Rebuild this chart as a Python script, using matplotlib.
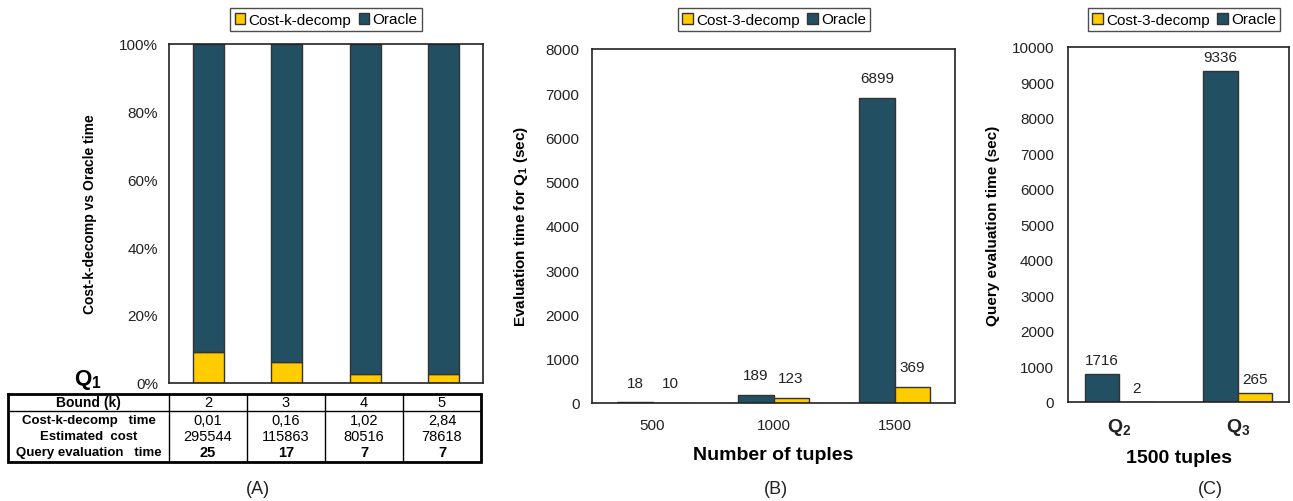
import numpy as np
import matplotlib
matplotlib.use("Agg")
import matplotlib.pyplot as plt
from matplotlib.patches import Patch

plt.rcParams['font.family'] = ['Liberation Sans', 'DejaVu Sans']
plt.rcParams['mathtext.fontset'] = 'custom'
plt.rcParams['mathtext.rm'] = 'Liberation Sans'
plt.rcParams['mathtext.bf'] = 'Liberation Sans:bold'

# ---- data ----
# (A) share of time, per bound k
bounds = ['2', '3', '4', '5']
costk_pct = [9.0, 6.1, 2.4, 2.4]
oracle_pct = [91.0, 93.9, 97.6, 97.6]
costk_time = ['0,01', '0,16', '1,02', '2,84']
est_cost = ['295544', '115863', '80516', '78618']
query_time = ['25', '17', '7', '7']

# (B) evaluation time for Q1 vs number of tuples
tuples = ['500', '1000', '1500']
oracle_b = [18, 189, 6899]
cost3_b = [10, 123, 369]

# (C) 1500 tuples, Q2 and Q3
queries = [r'$\mathbf{Q_2}$', r'$\mathbf{Q_3}$']
oracle_c = [800, 9336]
oracle_c_lbl = ['1716', '9336']
cost3_c = [2, 265]
cost3_c_lbl = ['2', '265']

YEL = '#FFCC00'
DARK = '#234F63'
EDGE = '#333333'

W, H = 1293, 502
fig = plt.figure(figsize=(W / 100, H / 100), dpi=100)


def box(l, t, r, b):
    return [l / W, 1 - b / H, (r - l) / W, (b - t) / H]


def style(ax):
    for s in ax.spines.values():
        s.set_linewidth(1.2)
        s.set_color('#222222')
    ax.tick_params(length=0, labelsize=11, colors='#222222')


def legend(ax, label, xc):
    h = [Patch(facecolor=YEL, edgecolor=EDGE, label=label),
         Patch(facecolor=DARK, edgecolor=EDGE, label='Oracle')]
    fig.legend(handles=h, loc='center', bbox_to_anchor=(xc / W, 1 - 20.5 / H),
               ncol=2, fontsize=11, frameon=True, fancybox=False,
               edgecolor='#222222', handlelength=0.7, handleheight=0.7,
               handletextpad=0.2, columnspacing=0.5, borderpad=0.3,
               borderaxespad=0)


# ---- (A) ----
axA = fig.add_axes(box(169, 45, 483, 383.5))
xa = np.arange(len(bounds))
axA.bar(xa, costk_pct, width=0.39, color=YEL, edgecolor=EDGE, linewidth=1)
axA.bar(xa, oracle_pct, bottom=costk_pct, width=0.39, color=DARK,
        edgecolor=EDGE, linewidth=1)
axA.set_xlim(-0.5, 3.5)
axA.set_ylim(0, 100)
axA.set_yticks(range(0, 101, 20))
axA.set_yticklabels([f'{v}%' for v in range(0, 101, 20)])
axA.set_xticks([])
style(axA)
axA.tick_params(axis='y', pad=8)
axA.set_ylabel('Cost-k-decomp vs Oracle time', fontsize=10, fontweight='bold',
               labelpad=16)
legend(axA, 'Cost-k-decomp', 326)
fig.text(88 / W, 1 - 380 / H, r'$\mathbf{Q_1}$', fontsize=16, ha='center',
         va='center')

# table under (A)
axT = fig.add_axes(box(8, 395, 481, 463))
unit = (483 - 169) / 4.0
x0 = -0.5 - (170 - 8) / unit
axT.set_xlim(x0, 3.5)
axT.set_ylim(463, 395)
axT.axis('off')
axT.plot([x0, 3.5, 3.5, x0, x0], [395, 395, 463, 463, 395], color='black',
         lw=2, clip_on=False, solid_joinstyle='miter')
axT.plot([x0, 3.5], [412, 412], color='black', lw=1)
for i in range(len(bounds)):
    axT.plot([i - 0.5, i - 0.5], [395, 463], color='black', lw=1)
lx = (x0 - 0.5) / 2
axT.text(lx, 403.5, 'Bound (k)', ha='center', va='center', fontsize=10,
         fontweight='bold')
axT.text(lx, 421, 'Cost-k-decomp   time', ha='center', va='center',
         fontsize=9.5, fontweight='bold')
axT.text(lx, 437, 'Estimated  cost', ha='center', va='center', fontsize=9.5,
         fontweight='bold')
axT.text(lx, 453, 'Query evaluation   time', ha='center', va='center',
         fontsize=9.5, fontweight='bold')
for i in range(len(bounds)):
    axT.text(i, 403.5, bounds[i], ha='center', va='center', fontsize=10.5)
    axT.text(i, 421, costk_time[i], ha='center', va='center', fontsize=10.5)
    axT.text(i, 437, est_cost[i], ha='center', va='center', fontsize=10.5)
    axT.text(i, 453, query_time[i], ha='center', va='center', fontsize=10.5,
             fontweight='bold')

# ---- (B) ----
axB = fig.add_axes(box(592, 50, 955, 404))
xb = np.arange(len(tuples))
bw = 0.29
rb1 = axB.bar(xb - bw / 2, oracle_b, width=bw, color=DARK, edgecolor=EDGE,
              linewidth=1)
rb2 = axB.bar(xb + bw / 2, cost3_b, width=bw, color=YEL, edgecolor=EDGE,
              linewidth=1)
for r, v in zip(list(rb1) + list(rb2), oracle_b + cost3_b):
    axB.annotate(str(v), (r.get_x() + r.get_width() / 2, r.get_height()),
                 xytext=(0, 14), textcoords='offset points', ha='center',
                 va='center', fontsize=11, color='#222222')
axB.set_xlim(-0.5, 2.5)
axB.set_ylim(0, 8000)
axB.set_yticks(range(0, 8001, 1000))
axB.set_xticks(xb)
axB.set_xticklabels(tuples)
style(axB)
axB.tick_params(axis='y', pad=9)
axB.tick_params(axis='x', pad=11)
axB.set_xlabel('Number of tuples', fontsize=14, fontweight='bold', labelpad=10)
axB.set_ylabel(r'Evaluation time for $\mathbf{Q_1}$ (sec)', fontsize=11,
               fontweight='bold', labelpad=11)
legend(axB, 'Cost-3-decomp', 774)

# ---- (C) ----
axC = fig.add_axes(box(1068, 48, 1289, 403))
xc = np.arange(len(queries))
rc1 = axC.bar(xc - bw / 2, oracle_c, width=bw, color=DARK, edgecolor=EDGE,
              linewidth=1)
rc2 = axC.bar(xc + bw / 2, cost3_c, width=bw, color=YEL, edgecolor=EDGE,
              linewidth=1)
for r, t in zip(list(rc1) + list(rc2), oracle_c_lbl + cost3_c_lbl):
    axC.annotate(t, (r.get_x() + r.get_width() / 2, r.get_height()),
                 xytext=(0, 10), textcoords='offset points', ha='center',
                 va='center', fontsize=11, color='#222222')
axC.set_xlim(-0.43, 1.43)
axC.set_ylim(0, 10000)
axC.set_yticks(range(0, 10001, 1000))
axC.set_xticks(xc)
axC.set_xticklabels(queries)
style(axC)
axC.tick_params(axis='x', labelsize=14, pad=10)
axC.tick_params(axis='y', pad=10)
axC.set_xlabel('1500 tuples', fontsize=14, fontweight='bold', labelpad=9)
axC.set_ylabel('Query evaluation time (sec)', fontsize=11, fontweight='bold',
               labelpad=8)
legend(axC, 'Cost-3-decomp', 1184)

# panel letters
for txt, x in [('(A)', 258), ('(B)', 776), ('(C)', 1210)]:
    fig.text(x / W, 1 - 490 / H, txt, ha='center', va='center', fontsize=13,
             color='#222222')

fig.savefig('out.png', dpi=100)
